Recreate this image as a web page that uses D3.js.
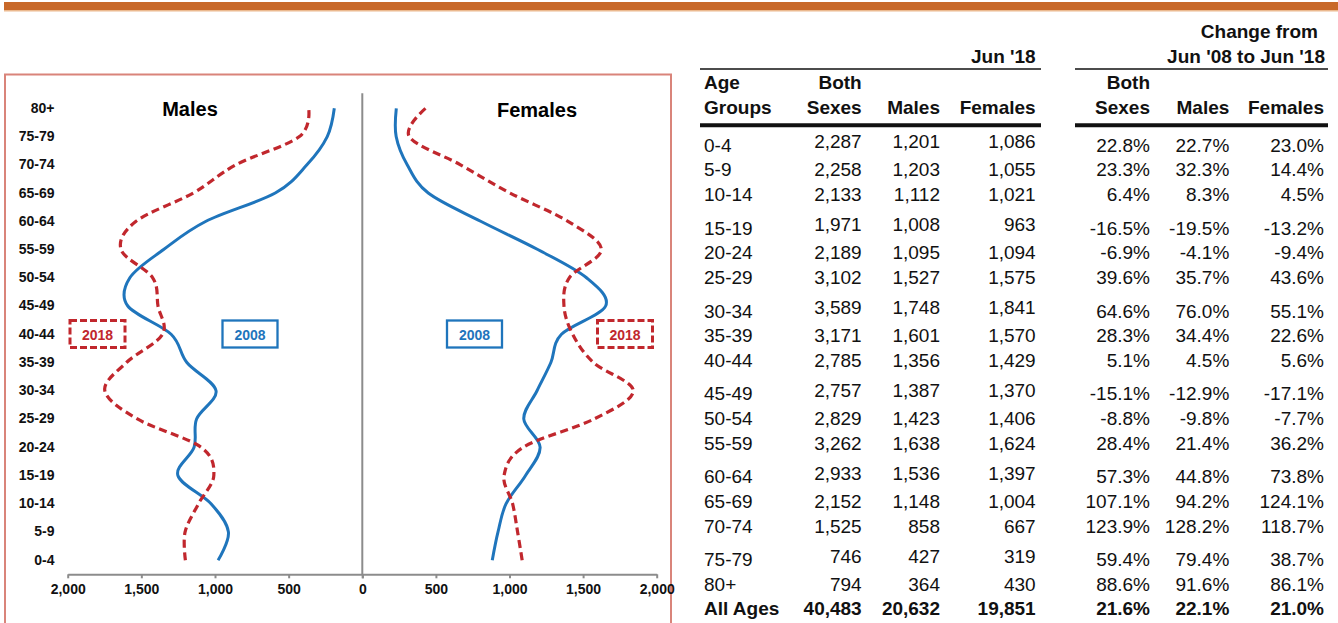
<!DOCTYPE html>
<html>
<head>
<meta charset="utf-8">
<script src="https://cdn.jsdelivr.net/npm/d3@7"></script>
<style>
  body { margin: 0; background: #fff; }
  svg text { font-family: 'Liberation Sans', Arial, sans-serif; }
</style>
</head>
<body>
<div id="chart"></div>
<script>
// age groups, youngest first (same order as the table)
let ages = ['0-4', '5-9', '10-14', '15-19', '20-24', '25-29', '30-34', '35-39', '40-44',
  '45-49', '50-54', '55-59', '60-64', '65-69', '70-74', '75-79', '80+']

let bothSexes = [2287, 2258, 2133, 1971, 2189, 3102, 3589, 3171, 2785, 2757, 2829, 3262, 2933, 2152, 1525, 746, 794]
let males2018 = [1201, 1203, 1112, 1008, 1095, 1527, 1748, 1601, 1356, 1387, 1423, 1638, 1536, 1148, 858, 427, 364]
let females2018 = [1086, 1055, 1021, 963, 1094, 1575, 1841, 1570, 1429, 1370, 1406, 1624, 1397, 1004, 667, 319, 430]

// 2008 curves
let males2008 = [979, 909, 1027, 1252, 1142, 1125, 993, 1191, 1298, 1592, 1578, 1349, 1061, 591, 376, 238, 190]
let females2008 = [883, 922, 977, 1109, 1208, 1097, 1187, 1281, 1353, 1653, 1523, 1192, 804, 448, 305, 230, 231]

let chgBoth = [22.8, 23.3, 6.4, -16.5, -6.9, 39.6, 64.6, 28.3, 5.1, -15.1, -8.8, 28.4, 57.3, 107.1, 123.9, 59.4, 88.6]
let chgMales = [22.7, 32.3, 8.3, -19.5, -4.1, 35.7, 76.0, 34.4, 4.5, -12.9, -9.8, 21.4, 44.8, 94.2, 128.2, 79.4, 91.6]
let chgFemales = [23.0, 14.4, 4.5, -13.2, -9.4, 43.6, 55.1, 22.6, 5.6, -17.1, -7.7, 36.2, 73.8, 124.1, 118.7, 38.7, 86.1]

let totals = [40483, 20632, 19851]
let totalChg = [21.6, 22.1, 21.0]

let xTicks = [0, 500, 1000, 1500, 2000]

let red = '#C1272D'
let blue = '#1F75BC'
let grey = '#8C8C8C'

let svg = d3
  .select('#chart')
  .append('svg')
  .attr('width', 1338)
  .attr('height', 623)

// orange rule at the top
svg.append('rect').attr('x', 4).attr('y', 2).attr('width', 1334).attr('height', 8).attr('fill', '#C8692A')
svg.append('rect').attr('x', 4).attr('y', 10).attr('width', 1334).attr('height', 1.5).attr('fill', '#EBB98F')

// chart frame
svg.append('rect')
  .attr('x', 5).attr('y', 74.5)
  .attr('width', 666).attr('height', 600)
  .attr('fill', 'none')
  .attr('stroke', '#D9847A')
  .attr('stroke-width', 2)

/* pyramid */
let center = 362.3
let xMale = d3.scaleLinear().domain([0, 2000]).range([center, 67.7])
let xFemale = d3.scaleLinear().domain([0, 2000]).range([center, 656.7])

let yScale = d3.scaleBand()
  .domain(ages.slice().reverse())
  .range([94.2, 574.3])

let yMid = a => yScale(a) + yScale.bandwidth() / 2
let fmt = d3.format(',')

let axisY = 574.3

svg.append('g')
  .attr('class', 'x-axis')
  .attr('transform', 'translate(0,' + axisY + ')')
  .call(d3.axisBottom(xMale).tickValues(xTicks).tickFormat(fmt).tickSizeInner(4).tickSizeOuter(0).tickPadding(6))

svg.append('g')
  .attr('class', 'x-axis')
  .attr('transform', 'translate(0,' + axisY + ')')
  .call(d3.axisBottom(xFemale).tickValues(xTicks).tickFormat(d => d === 0 ? '' : fmt(d)).tickSizeInner(4).tickSizeOuter(0).tickPadding(6))

svg.selectAll('.x-axis path, .x-axis line')
  .attr('stroke', grey)
  .attr('stroke-width', 2)
svg.selectAll('.x-axis text')
  .attr('font-size', 14)
  .attr('font-weight', 'bold')
  .attr('fill', '#111')

// centre line
svg.append('line')
  .attr('x1', center).attr('x2', center)
  .attr('y1', 93.3).attr('y2', axisY)
  .attr('stroke', grey)
  .attr('stroke-width', 2)

// age labels on the left
let yAxis = svg.append('g')
  .attr('transform', 'translate(54.5,0)')
  .call(d3.axisLeft(yScale).tickSize(0).tickPadding(0))
yAxis.select('.domain').remove()
yAxis.selectAll('text')
  .attr('font-size', 14)
  .attr('font-weight', 'bold')
  .attr('fill', '#111')

// panel titles
svg.append('text').attr('x', 190).attr('y', 116).attr('text-anchor', 'middle')
  .attr('font-size', 20).attr('font-weight', 'bold').text('Males')
svg.append('text').attr('x', 537).attr('y', 116.5).attr('text-anchor', 'middle')
  .attr('font-size', 20).attr('font-weight', 'bold').text('Females')

let curve = d3.curveCardinal.tension(0)

function drawLine(values, xs, color, dashed) {
  let line = d3.line()
    .x(d => xs(d.v))
    .y(d => yMid(d.age))
    .curve(curve)
  svg.append('path')
    .datum(ages.map((a, i) => ({ age: a, v: values[i] })))
    .attr('d', line)
    .attr('fill', 'none')
    .attr('stroke', color)
    .attr('stroke-width', dashed ? 3.2 : 3)
    .attr('stroke-dasharray', dashed ? '8,4.5' : null)
}

drawLine(males2008, xMale, blue, false)
drawLine(males2018, xMale, red, true)
drawLine(females2008, xFemale, blue, false)
drawLine(females2018, xFemale, red, true)

// legend boxes
function legendBox(x, label, color, dashed) {
  svg.append('rect')
    .attr('x', x).attr('y', 320.5)
    .attr('width', 55).attr('height', 27)
    .attr('fill', 'white')
    .attr('stroke', color)
    .attr('stroke-width', dashed ? 3 : 2.3)
    .attr('stroke-dasharray', dashed ? '7,3' : null)
  svg.append('text')
    .attr('x', x + 27.5).attr('y', 339.5)
    .attr('text-anchor', 'middle')
    .attr('font-size', 14)
    .attr('font-weight', 'bold')
    .attr('fill', color)
    .text(label)
}
legendBox(70, '2018', red, true)
legendBox(222.5, '2008', blue, false)
legendBox(447, '2008', blue, false)
legendBox(597.5, '2018', red, true)

/* table */
let table = svg.append('g').attr('font-size', 19).attr('fill', '#111')

function txt(x, y, s, anchor, bold) {
  table.append('text')
    .attr('x', x).attr('y', y)
    .attr('text-anchor', anchor)
    .attr('font-weight', bold ? 'bold' : null)
    .text(s)
}

let leftCols = [861.7, 940, 1035.7]
let rightCols = [1150, 1229.3, 1324]

txt(1318, 38.3, 'Change from', 'end', true)
txt(1035.7, 62.7, 'Jun \'18', 'end', true)
txt(1325, 62.7, 'Jun \'08 to Jun \'18', 'end', true)

txt(704, 89.3, 'Age', 'start', true)
txt(704, 114.3, 'Groups', 'start', true)
txt(leftCols[0], 89.3, 'Both', 'end', true)
txt(leftCols[0], 114.3, 'Sexes', 'end', true)
txt(leftCols[1], 114.3, 'Males', 'end', true)
txt(leftCols[2], 114.3, 'Females', 'end', true)
txt(rightCols[0], 89.3, 'Both', 'end', true)
txt(rightCols[0], 114.3, 'Sexes', 'end', true)
txt(rightCols[1], 114.3, 'Males', 'end', true)
txt(rightCols[2], 114.3, 'Females', 'end', true)

;[[700, 1041], [1075, 1328]].forEach(([a, b]) => {
  svg.append('line').attr('x1', a).attr('x2', b).attr('y1', 69).attr('y2', 69)
    .attr('stroke', '#111').attr('stroke-width', 1.5)
  svg.append('line').attr('x1', a).attr('x2', b).attr('y1', 125.3).attr('y2', 125.3)
    .attr('stroke', '#111').attr('stroke-width', 4)
})

let pct = v => v.toFixed(1) + '%'
// rows come in groups of three with a small gap between groups
let rowY = i => 151.7 + Math.floor(i / 3) * 82.9 + (i % 3) * 24.6

ages.forEach((a, i) => {
  let y = rowY(i)
  let ny = i % 3 === 0 ? y - 3.5 : y
  txt(704, y, a, 'start', false)
  txt(leftCols[0], ny, fmt(bothSexes[i]), 'end', false)
  txt(leftCols[1], ny, fmt(males2018[i]), 'end', false)
  txt(leftCols[2], ny, fmt(females2018[i]), 'end', false)
  txt(rightCols[0], y, pct(chgBoth[i]), 'end', false)
  txt(rightCols[1], y, pct(chgMales[i]), 'end', false)
  txt(rightCols[2], y, pct(chgFemales[i]), 'end', false)
})

let yTot = rowY(17)
txt(704, yTot, 'All Ages', 'start', true)
totals.forEach((v, i) => txt(leftCols[i], yTot, fmt(v), 'end', true))
totalChg.forEach((v, i) => txt(rightCols[i], yTot, pct(v), 'end', true))
</script>
</body>
</html>
